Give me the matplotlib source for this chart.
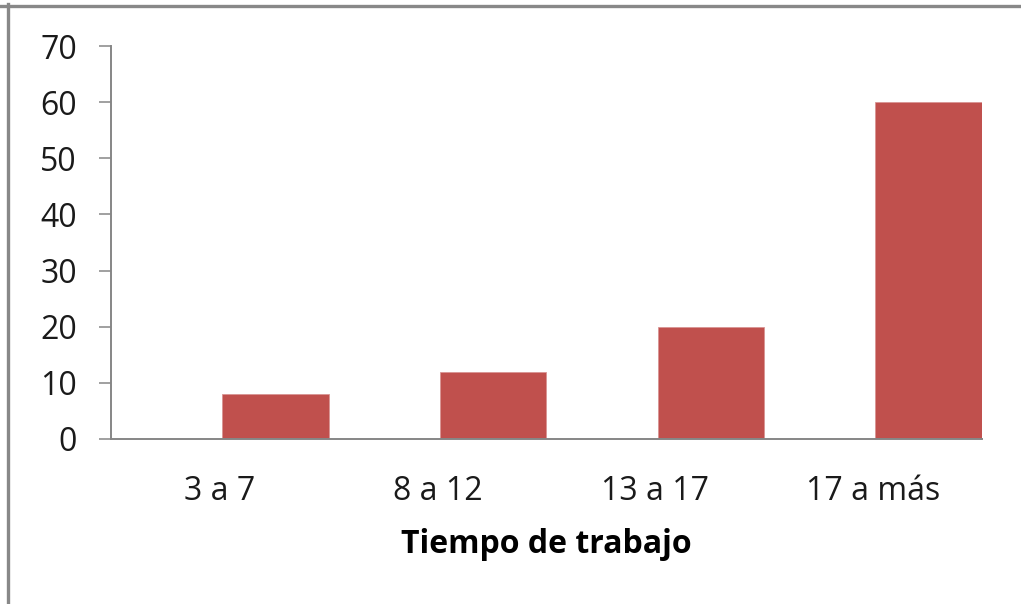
import numpy as np
import matplotlib.pyplot as plt
from matplotlib.lines import Line2D

categories = ["3 a 7", "8 a 12", "13 a 17", "17 a más"]
values = [8, 12, 20, 60]
yticks = [0, 10, 20, 30, 40, 50, 60, 70]
xlabel = "Tiempo de trabajo"

plt.rcParams["font.family"] = ["Open Sans", "DejaVu Sans"]

fig = plt.figure(figsize=(10.21, 6.04), dpi=100)
ax = fig.add_axes([0.1087, 0.2732, 0.8531, 0.6506])

x = np.arange(len(categories))
# bars sit in the right half of each category (empty first series in the original)
ax.bar(x + 0.01, values, width=0.49, align="edge", color="#C0504D",
       edgecolor="#D99594", linewidth=0.6)

ax.set_xlim(-0.5, len(categories) - 0.5)
ax.set_ylim(0, 70)
ax.set_yticks(yticks)
ax.set_xticks(x)
ax.set_xticklabels(categories)

axis_col = "#868686"
for side in ["top", "right"]:
    ax.spines[side].set_visible(False)
for side in ["left", "bottom"]:
    ax.spines[side].set_color(axis_col)
    ax.spines[side].set_linewidth(1.4)

ax.tick_params(axis="y", direction="out", length=8.6, width=1.1, color=axis_col,
               pad=16, labelsize=23, labelcolor="#1a1a1a")
ax.tick_params(axis="x", length=0, pad=26, labelsize=23, labelcolor="#1a1a1a")

ax.set_xlabel(xlabel, fontsize=23, fontweight="bold", labelpad=14, color="#000000")

# outer frame (top and left edges visible in the original crop)
fig.add_artist(Line2D([0, 1], [1 - 5.5 / 604, 1 - 5.5 / 604], transform=fig.transFigure,
                      color="#888888", linewidth=2.4))
fig.add_artist(Line2D([8 / 1021, 8 / 1021], [0, 1 - 4 / 604], transform=fig.transFigure,
                      color="#888888", linewidth=2.4))

fig.savefig("out.png", dpi=100, facecolor="white")
